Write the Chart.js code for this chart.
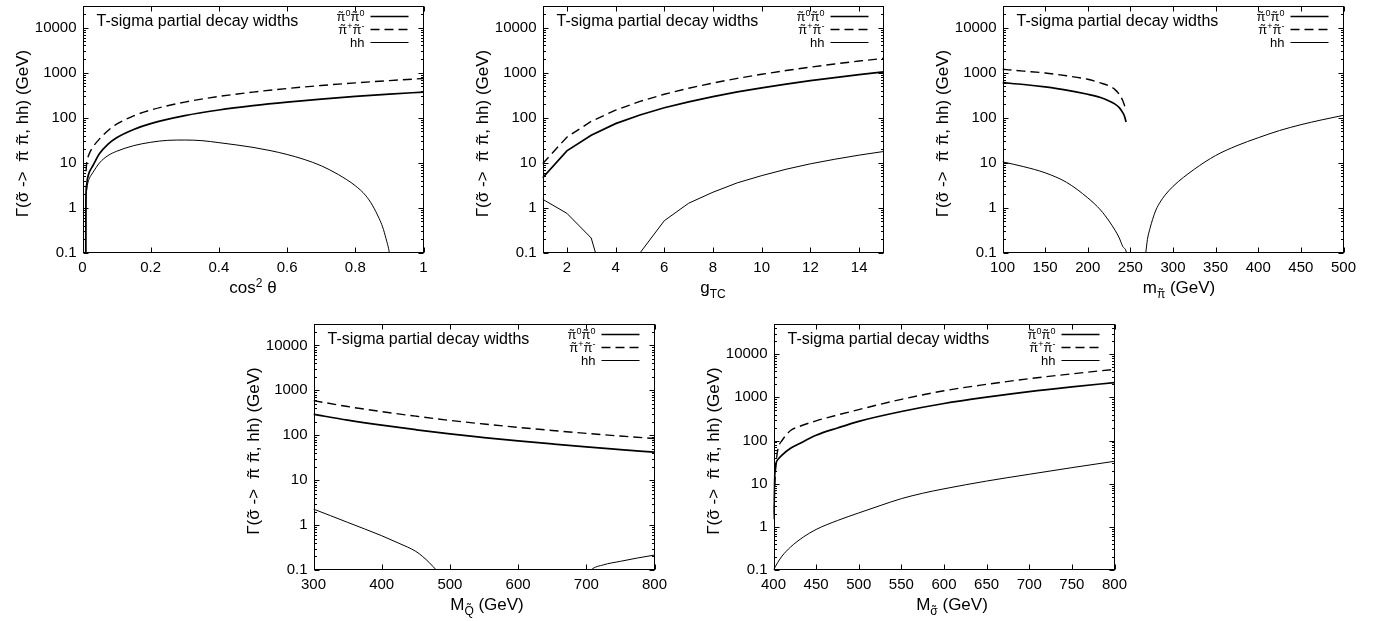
<!DOCTYPE html>
<html>
<head>
<meta charset="utf-8">
<script src="https://cdn.jsdelivr.net/npm/chart.js@4.4.1/dist/chart.umd.min.js"></script>
<style>
  html, body { margin: 0; padding: 0; background: #fff; }
  body { width: 1377px; height: 621px; position: relative; overflow: hidden; }
  canvas { position: absolute; }
</style>
</head>
<body>
<canvas id="p1"></canvas>
<canvas id="p2"></canvas>
<canvas id="p3"></canvas>
<canvas id="p4"></canvas>
<canvas id="p5"></canvas>
<script>
// ---- shared axis / legend text ----
const yTicks = [0.1, 1, 10, 100, 1000, 10000];
const plotTitle = 'T-sigma partial decay widths';
const seriesLabels = ['pi0 pi0', 'pi+ pi-', 'hh'];
// rich text pieces: tilde = accent over the glyph, sub / sup = small shifted text
const yTitleParts = [{t: 'Γ('}, {t: 'σ', tilde: true}, {t: ' ->  '}, {t: 'π', tilde: true}, {t: ' '}, {t: 'π', tilde: true}, {t: ', hh) (GeV)'}];
const keyParts = [
  [{t: 'π', tilde: true}, {t: '0', sup: true}, {t: 'π', tilde: true}, {t: '0', sup: true}],
  [{t: 'π', tilde: true}, {t: '+', sup: true}, {t: 'π', tilde: true}, {t: '-', sup: true}],
  [{t: 'hh'}]
];

// ---- panel 1: cos^2 theta ----
const cosTicks = [0, 0.2, 0.4, 0.6, 0.8, 1];
const cosX = [0.0095, 0.01, 0.012, 0.015, 0.02, 0.03, 0.05, 0.075, 0.1, 0.15, 0.2, 0.3, 0.4, 0.5, 0.6, 0.7, 0.8, 0.9, 1.0];
const cosNeutral = [0.05, 1.5, 3.2, 4.6, 6.2, 8.5, 16, 26, 36, 55, 74, 111, 148, 185, 222, 259, 296, 333, 370];
const cosChargedX = [0.0105, 0.012, 0.015, 0.02, 0.03, 0.05, 0.075, 0.1, 0.15, 0.2, 0.3, 0.4, 0.5, 0.6, 0.7, 0.8, 0.9, 1.0];
const cosCharged = [6.5, 9.5, 12.5, 16, 22, 34, 52, 72, 110, 148, 222, 296, 370, 444, 518, 592, 666, 740];
const cosHhX = [0.0095, 0.01, 0.012, 0.015, 0.02, 0.03, 0.05, 0.075, 0.1, 0.15, 0.2, 0.25, 0.3, 0.35, 0.4, 0.45, 0.5, 0.55, 0.6, 0.65, 0.7, 0.75, 0.8, 0.83, 0.85, 0.87, 0.88, 0.89, 0.9, 0.905];
const cosHh = [0.05, 1.2, 2.4, 3.4, 4.5, 6, 10, 14.5, 18, 24, 28.5, 31.5, 32, 31, 28, 25, 22, 18.7, 15.3, 11.9, 8.6, 5.5, 3.1, 1.9, 1.15, 0.58, 0.38, 0.21, 0.1, 0.05];

// ---- panel 2: g_TC ----
const gTicks = [2, 4, 6, 8, 10, 12, 14];
const gX = [1, 2, 3, 4, 5, 6, 7, 8, 9, 10, 11, 12, 13, 14, 15];
const gNeutral = [4.6, 18.4, 41, 74, 115, 166, 225, 294, 373, 460, 557, 662, 777, 902, 1035];
const gCharged = [9.5, 37, 83, 147, 230, 331, 451, 589, 745, 920, 1113, 1325, 1555, 1803, 2070];
const gHh = [1.56, 0.76, 0.215, 0.003, 0.1, 0.52, 1.27, 2.23, 3.6, 5.2, 7.2, 9.5, 12, 14.8, 17.8];

// ---- panel 3: m_pi ----
const mPiTicks = [100, 150, 200, 250, 300, 350, 400, 450, 500];
const mPiX = [100, 125, 150, 175, 200, 215, 225, 232, 237, 241, 243, 245];
const mPiNeutral = [600, 545, 481, 410, 331, 280, 235, 200, 167, 130, 109, 80];
const mPiChargedX = [100, 125, 150, 175, 200, 215, 225, 232, 237, 241, 243.5];
const mPiCharged = [1186, 1080, 983, 850, 711, 590, 505, 420, 330, 240, 180];
const mPiHhX = [100, 125, 150, 175, 200, 215, 225, 232, 237, 241, 245.5, 246.5, 256, 266.5, 268, 270, 273, 276, 280, 285, 290, 300, 325, 350, 375, 400, 425, 450, 475, 500];
const mPiHh = [10.5, 8.2, 6.0, 3.7, 1.67, 0.9, 0.51, 0.32, 0.215, 0.14, 0.1, 0.07, null, 0.07, 0.1, 0.2, 0.35, 0.55, 0.9, 1.35, 1.85, 3.0, 7.2, 14.5, 24, 36, 52, 70, 90, 113];

// ---- panel 4: M_Q ----
const mqTicks = [300, 400, 500, 600, 700, 800];
const mqX = [300, 350, 400, 450, 500, 550, 600, 650, 700, 750, 800];
const mqNeutral = [293, 218, 168, 133, 107, 89, 75, 64, 55, 48, 42];
const mqCharged = [590, 436, 336, 266, 214, 178, 150, 128, 110, 96, 85];
const mqHhX = [300, 325, 350, 375, 400, 425, 450, 460, 470, 480, 490, 600, 700, 707, 725, 750, 775, 800];
const mqHh = [2.27, 1.62, 1.15, 0.82, 0.58, 0.395, 0.26, 0.2, 0.145, 0.1, 0.07, null, 0.07, 0.1, 0.13, 0.156, 0.185, 0.215];

// ---- panel 5: M_sigma ----
const msTicks = [400, 450, 500, 550, 600, 650, 700, 750, 800];
const msX = [400, 401, 402, 403, 405, 410, 420, 430, 450, 475, 500, 550, 600, 650, 700, 750, 800];
const msNeutral = [1.5, 10, 22, 30, 36, 46, 66, 84, 132, 195, 278, 470, 720, 1010, 1360, 1750, 2200];
const msChargedX = [400.5, 402, 404, 406, 410, 420, 430, 450, 475, 500, 550, 600, 650, 700, 750, 800];
const msCharged = [2, 15, 45, 72, 100, 170, 210, 285, 390, 520, 900, 1420, 2000, 2700, 3500, 4450];
const msHhX = [400, 405, 410, 420, 435, 450, 475, 500, 525, 550, 575, 600, 650, 700, 750, 800];
const msHh = [0.1, 0.15, 0.21, 0.34, 0.58, 0.87, 1.4, 2.1, 3.1, 4.5, 6.0, 7.6, 11.5, 16.5, 23.5, 33];

const FONT = '"Liberation Sans", Arial, sans-serif';
Chart.defaults.font.family = FONT;
Chart.defaults.color = '#000';

function pts(xs, ys){
  return xs.map((x, i) => ({x, y: ys[i]}));
}

// draws text pieces on one line, centred (or right-aligned) on cx, middle at cy
function drawRich(ctx, parts, cx, cy, size, align){
  const small = Math.round(size * 0.7);
  const fontOf = p => `${p.sub || p.sup ? small : size}px ${FONT}`;
  let w = 0;
  const widths = parts.map(p => {
    ctx.font = fontOf(p);
    const pw = ctx.measureText(p.t).width;
    w += pw;
    return pw;
  });
  let x = align === 'right' ? cx - w : cx - w / 2;
  const base = cy + size * 0.36;
  ctx.textAlign = 'left';
  ctx.textBaseline = 'alphabetic';
  parts.forEach((p, i) => {
    ctx.font = fontOf(p);
    const fs = p.sub || p.sup ? small : size;
    const dy = p.sub ? size * 0.3 : (p.sup ? -size * 0.38 : 0);
    ctx.fillText(p.t, x, base + dy);
    if(p.tilde){
      const tw = ctx.measureText('˜').width;
      const up = /[A-Z]/.test(p.t) ? fs * 0.2 : fs * 0.02;
      ctx.fillText('˜', x + widths[i] / 2 - tw / 2, base + dy - up);
    }
    x += widths[i];
  });
}

// gnuplot look: box, inward ticks on all sides, title, key, axis labels
const gnuFrame = {
  id: 'gnuFrame',
  afterDatasetsDraw(chart, args, opts){
    const {ctx, chartArea: a, scales: {x, y}} = chart;
    const L = Math.round(a.left) + 0.5, R = Math.round(a.right) - 0.5;
    const T = Math.round(a.top) + 0.5, B = Math.round(a.bottom) - 0.5;
    ctx.save();
    ctx.strokeStyle = '#000';
    ctx.fillStyle = '#000';
    ctx.lineWidth = 1;
    ctx.setLineDash([]);
    ctx.strokeRect(L, T, R - L, B - T);

    ctx.beginPath();
    // y major and minor ticks, both sides
    yTicks.forEach(d => {
      for(let k = 1; k <= 9; k++){
        const v = d * k;
        if(v > y.max) break;
        const py = Math.round(y.getPixelForValue(v)) + 0.5;
        const len = k === 1 ? 5 : 2.5;
        ctx.moveTo(L, py); ctx.lineTo(L + len, py);
        ctx.moveTo(R, py); ctx.lineTo(R - len, py);
      }
    });
    // x major ticks, bottom and top
    opts.xTicks.forEach(v => {
      const px = Math.round(x.getPixelForValue(v)) + 0.5;
      ctx.moveTo(px, B); ctx.lineTo(px, B - 5);
      ctx.moveTo(px, T); ctx.lineTo(px, T + 5);
    });
    ctx.stroke();

    // title inside the box
    ctx.font = `16px ${FONT}`;
    ctx.textAlign = 'left';
    ctx.textBaseline = 'middle';
    ctx.fillText(plotTitle, a.left + 14, a.top + 16);

    // key
    chart.data.datasets.forEach((ds, i) => {
      const yy = Math.round(a.top + 10 + i * 12.8) + 0.5;
      drawRich(ctx, keyParts[i], a.right - 59, yy, 13, 'right');
      ctx.lineWidth = ds.borderWidth;
      ctx.setLineDash(ds.borderDash || []);
      ctx.beginPath();
      ctx.moveTo(a.right - 53, yy);
      ctx.lineTo(a.right - 15, yy);
      ctx.stroke();
    });
    ctx.setLineDash([]);

    // x label
    drawRich(ctx, opts.xTitle, (a.left + a.right) / 2 + (opts.xShift || 0), a.bottom + 34, 17);

    // y label, rotated
    ctx.translate(a.left - 60.5, (a.top + a.bottom) / 2 + 4);
    ctx.rotate(-Math.PI / 2);
    drawRich(ctx, yTitleParts, 0, 0, 17);
    ctx.restore();
  }
};

function makePanel(cfg){
  const el = document.getElementById(cfg.id);
  const W = 440;
  el.width = W; el.height = cfg.h;
  el.style.left = cfg.left + 'px';
  el.style.top = cfg.top + 'px';
  el.style.width = W + 'px';
  el.style.height = cfg.h + 'px';

  const styles = [
    {borderWidth: 1.7, borderDash: []},
    {borderWidth: 1.4, borderDash: [9, 5]},
    {borderWidth: 1.0, borderDash: []}
  ];
  const datasets = cfg.series.map((s, i) => ({
    label: seriesLabels[i],
    data: pts(s[0], s[1]),
    borderColor: '#000',
    backgroundColor: '#000',
    borderWidth: styles[i].borderWidth,
    borderDash: styles[i].borderDash,
    pointRadius: 0,
    fill: false,
    clip: 0,
    spanGaps: false,
    tension: cfg.straight ? 0 : 0.4,
    cubicInterpolationMode: cfg.straight ? 'default' : 'monotone'
  }));

  return new Chart(el, {
    type: 'line',
    data: {datasets},
    options: {
      responsive: false,
      animation: false,
      devicePixelRatio: 1,
      events: [],
      layout: {padding: {left: 0, right: 16.5, top: cfg.padTop, bottom: 0}},
      plugins: {
        legend: {display: false},
        tooltip: {enabled: false},
        gnuFrame: {xTicks: cfg.xTicks, xTitle: cfg.xTitle, xShift: cfg.xShift}
      },
      scales: {
        x: {
          type: 'linear',
          min: cfg.xMin, max: cfg.xMax,
          grid: {display: false, drawTicks: false},
          border: {display: false},
          afterBuildTicks: sc => { sc.ticks = cfg.xTicks.map(v => ({value: v})); },
          afterFit: sc => {
            sc.height = cfg.h - cfg.padTop - cfg.plotH;
            sc.paddingLeft = 0; sc.paddingRight = 0;
          },
          ticks: {
            autoSkip: false, maxRotation: 0, padding: 6,
            font: {size: 15},
            callback: v => String(v)
          }
        },
        y: {
          type: 'logarithmic',
          min: 0.1, max: cfg.yMax,
          grid: {display: false, drawTicks: false},
          border: {display: false},
          afterBuildTicks: sc => { sc.ticks = yTicks.map(v => ({value: v})); },
          afterFit: sc => {
            sc.width = 82.5;
            sc.paddingTop = 0; sc.paddingBottom = 0;
          },
          ticks: {
            autoSkip: false, padding: 6,
            font: {size: 15},
            callback: v => String(v)
          }
        }
      }
    },
    plugins: [gnuFrame]
  });
}

const topRow = {h: 310, padTop: 6, plotH: 247, yMax: 30000};
const bottomRow = {h: 311, padTop: 14, plotH: 246};

makePanel(Object.assign({}, topRow, {
  id: 'p1', left: 0, top: 0,
  xMin: 0, xMax: 1, xTicks: cosTicks,
  xTitle: [{t: 'cos'}, {t: '2', sup: true}, {t: ' θ'}],
  series: [[cosX, cosNeutral], [cosChargedX, cosCharged], [cosHhX, cosHh]]
}));

makePanel(Object.assign({}, topRow, {
  id: 'p2', left: 460, top: 0, straight: true,
  xMin: 1, xMax: 15, xTicks: gTicks,
  xTitle: [{t: 'g'}, {t: 'TC', sub: true}],
  series: [[gX, gNeutral], [gX, gCharged], [gX, gHh]]
}));

makePanel(Object.assign({}, topRow, {
  id: 'p3', left: 920, top: 0, xShift: 6,
  xMin: 100, xMax: 500, xTicks: mPiTicks,
  xTitle: [{t: 'm'}, {t: 'π', tilde: true, sub: true}, {t: ' (GeV)'}],
  series: [[mPiX, mPiNeutral], [mPiChargedX, mPiCharged], [mPiHhX, mPiHh]]
}));

makePanel(Object.assign({}, bottomRow, {
  id: 'p4', left: 231, top: 310, yMax: 30000, xShift: 3,
  xMin: 300, xMax: 800, xTicks: mqTicks,
  xTitle: [{t: 'M'}, {t: 'Q', tilde: true, sub: true}, {t: ' (GeV)'}],
  series: [[mqX, mqNeutral], [mqX, mqCharged], [mqHhX, mqHh]]
}));

makePanel(Object.assign({}, bottomRow, {
  id: 'p5', left: 691, top: 310, yMax: 50000, xShift: 8,
  xMin: 400, xMax: 800, xTicks: msTicks,
  xTitle: [{t: 'M'}, {t: 'σ', tilde: true, sub: true}, {t: ' (GeV)'}],
  series: [[msX, msNeutral], [msChargedX, msCharged], [msHhX, msHh]]
}));
</script>
</body>
</html>
